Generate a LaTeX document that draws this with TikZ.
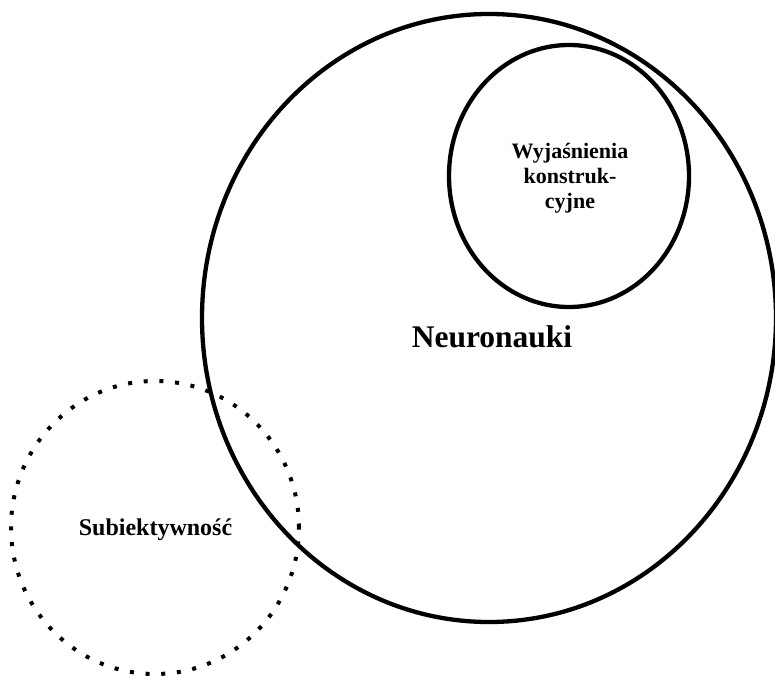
\documentclass[tikz,border=0pt]{standalone}
\usepackage{fontspec}
\setmainfont{Liberation Serif}
\usetikzlibrary{shapes.geometric}
\begin{document}
\begin{tikzpicture}[x=1pt,y=1pt,
  solidset/.style={draw=black, ellipse, line width=4.3pt, inner sep=0pt, outer sep=0pt},
  dotset/.style={draw=black, ellipse, line width=4pt, inner sep=0pt, outer sep=0pt,
                 dash pattern=on 4pt off 11.7pt},
  label/.style={font=\bfseries, align=center, inner sep=0pt}]
  \useasboundingbox (0,0) rectangle (775,675);
  % sets
  \node[solidset, minimum width=574pt, minimum height=608pt] (neuro) at (489,357) {};
  \node[solidset, minimum width=240pt, minimum height=262pt] (wyj) at (569,499) {};
  \node[dotset, minimum width=288pt, minimum height=293pt] (subj) at (155,147.5) {};
  % labels
  \node[label, font=\fontsize{31.5}{34}\bfseries\selectfont] (neurotxt) at (492,338) {Neuronauki};
  \node[label, font=\fontsize{22}{25}\bfseries\selectfont] (wyjtxt) at (570,497) {Wyjaśnienia\\konstruk-\\cyjne};
  \node[label, font=\fontsize{24}{26}\bfseries\selectfont] (subjtxt) at (155.5,145) {Subiektywność};
\end{tikzpicture}
\end{document}
